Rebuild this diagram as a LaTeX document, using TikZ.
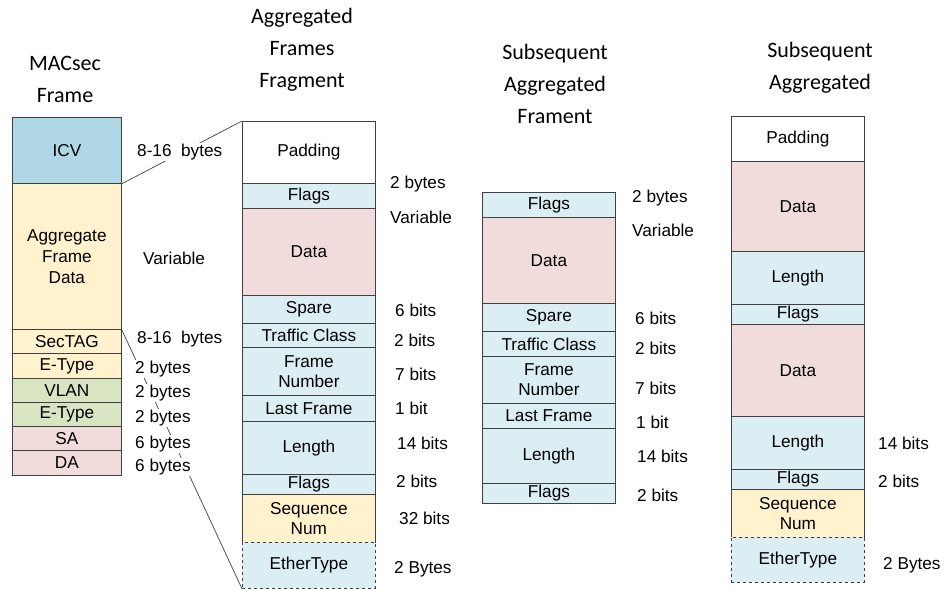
\documentclass[tikz,border=0pt]{standalone}
\usepackage{fontspec}
\setmainfont{Liberation Sans}
\newfontfamily\titlefont{Carlito}
\definecolor{icvblue}{RGB}{176,215,229}
\definecolor{cellblue}{RGB}{219,238,244}
\definecolor{cellyellow}{RGB}{255,242,204}
\definecolor{cellgreen}{RGB}{216,228,194}
\definecolor{cellpink}{RGB}{242,220,219}
\definecolor{edgegray}{RGB}{64,64,64}

\begin{document}
\begin{tikzpicture}[x=1pt,y=-1pt,
  cell/.style={draw=edgegray, line width=0.8pt, anchor=north west, minimum width=133pt,
    inner sep=0pt, align=center, fill=cellblue, font=\fontsize{17.2}{20}\selectfont},
  narrow/.style={minimum width=109pt},
  lbl/.style={anchor=west, fill=white, inner sep=1pt, font=\fontsize{17.2}{20}\selectfont},
  title/.style={align=center, font=\titlefont\fontsize{22}{32}\selectfont},
  conn/.style={draw=edgegray, line width=0.7pt}]
  \useasboundingbox (0,0) rectangle (945,589);

  % titles
  \node[title] (t1) at (65,79) {MACsec\\Frame};
  \node[title] (t2) at (302,50) {Aggregated\\Frames\\Fragment};
  \node[title] (t3) at (555,84) {Subsequent\\Aggregated\\Frament};
  \node[title] (t4) at (820,68) {Subsequent\\Aggregated};

  % MACsec frame
  \node[cell, narrow, fill=icvblue, minimum height=66pt] (icv) at (12,117) {ICV};
  \node[cell, narrow, fill=cellyellow, minimum height=146pt, font=\fontsize{17.2}{21}\selectfont] (afd) at (12,183) {Aggregate\\Frame\\Data};
  \node[cell, narrow, fill=cellyellow, minimum height=24pt] (sectag) at (12,329) {SecTAG};
  \node[cell, narrow, fill=cellyellow, minimum height=25pt] (etypeA) at (12,353) {E-Type};
  \node[cell, narrow, fill=cellgreen, minimum height=24pt] (vlan) at (12,378) {VLAN};
  \node[cell, narrow, fill=cellgreen, minimum height=24pt] (etypeB) at (12,402) {E-Type};
  \node[cell, narrow, fill=cellpink, minimum height=24pt] (sa) at (12,426) {SA};
  \node[cell, narrow, fill=cellpink, minimum height=25pt] (da) at (12,450) {DA};

  % aggregated frames fragment
  \node[cell, fill=white, minimum height=62pt] (padB) at (242,121) {Padding};
  \node[cell, minimum height=25pt] (flagsBa) at (242,183) {Flags};
  \node[cell, fill=cellpink, minimum height=87pt] (dataB) at (242,208) {Data};
  \node[cell, minimum height=28pt] (spareB) at (242,295) {Spare};
  \node[cell, minimum height=24pt] (tcB) at (242,323) {Traffic Class};
  \node[cell, minimum height=48pt] (fnB) at (242,347) {Frame\\Number};
  \node[cell, minimum height=26pt] (lfB) at (242,395) {Last Frame};
  \node[cell, minimum height=53pt] (lenB) at (242,421) {Length};
  \node[cell, minimum height=20pt] (flagsBb) at (242,474) {Flags};
  \node[cell, fill=cellyellow, minimum height=48pt] (seqB) at (242,494) {Sequence\\Num};
  \node[cell, dashed, minimum height=46pt] (ethB) at (242,542) {EtherType};

  % subsequent aggregated fragment
  \node[cell, minimum height=25pt] (flagsCa) at (482,192) {Flags};
  \node[cell, fill=cellpink, minimum height=86pt] (dataC) at (482,217) {Data};
  \node[cell, minimum height=28pt] (spareC) at (482,303) {Spare};
  \node[cell, minimum height=25pt] (tcC) at (482,331) {Traffic Class};
  \node[cell, minimum height=47pt] (fnC) at (482,356) {Frame\\Number};
  \node[cell, minimum height=25pt] (lfC) at (482,403) {Last Frame};
  \node[cell, minimum height=55pt] (lenC) at (482,428) {Length};
  \node[cell, minimum height=20pt] (flagsCb) at (482,483) {Flags};

  % subsequent aggregated
  \node[cell, fill=white, minimum height=45pt] (padD) at (731,116) {Padding};
  \node[cell, fill=cellpink, minimum height=90pt] (dataDa) at (731,161) {Data};
  \node[cell, minimum height=53pt] (lenDa) at (731,251) {Length};
  \node[cell, minimum height=20pt] (flagsDa) at (731,304) {Flags};
  \node[cell, fill=cellpink, minimum height=92pt] (dataDb) at (731,324) {Data};
  \node[cell, minimum height=53pt] (lenDb) at (731,416) {Length};
  \node[cell, minimum height=20pt] (flagsDb) at (731,469) {Flags};
  \node[cell, fill=cellyellow, minimum height=48pt] (seqD) at (731,489) {Sequence\\Num};
  \node[cell, dashed, minimum height=45pt] (ethD) at (731,537) {EtherType};

  % zoom lines
  \draw[conn] (icv.south east) -- (padB.north west);
  \draw[conn] (afd.south east) -- (ethB.south west);

  % sizes
  \node[lbl] (sA1) at (136,152) {8-16\ \ bytes};
  \node[lbl] (sA2) at (142,258) {Variable};
  \node[lbl] (sA3) at (136,339) {8-16\ \ bytes};
  \node[lbl] (sA4) at (134,369) {2 bytes};
  \node[lbl] (sA5) at (134,393) {2 bytes};
  \node[lbl] (sA6) at (134,418) {2 bytes};
  \node[lbl] (sA7) at (134,444) {6 bytes};
  \node[lbl] (sA8) at (134,467) {6 bytes};

  \node[lbl] (sB1) at (389,184) {2 bytes};
  \node[lbl] (sB2) at (389,217) {Variable};
  \node[lbl] (sB3) at (394,310) {6 bits};
  \node[lbl] (sB4) at (393,340) {2 bits};
  \node[lbl] (sB5) at (394,374) {7 bits};
  \node[lbl] (sB6) at (394,408) {1 bit};
  \node[lbl] (sB7) at (396,443) {14 bits};
  \node[lbl] (sB8) at (395,481) {2 bits};
  \node[lbl] (sB9) at (398,518) {32 bits};
  \node[lbl] (sB10) at (393,569) {2 Bytes};

  \node[lbl] (sC1) at (631,198) {2 bytes};
  \node[lbl] (sC2) at (631,230) {Variable};
  \node[lbl] (sC3) at (634,318) {6 bits};
  \node[lbl] (sC4) at (634,348) {2 bits};
  \node[lbl] (sC5) at (634,388) {7 bits};
  \node[lbl] (sC6) at (635,422) {1 bit};
  \node[lbl] (sC7) at (636,456) {14 bits};
  \node[lbl] (sC8) at (636,495) {2 bits};

  \node[lbl] (sD1) at (877,443) {14 bits};
  \node[lbl] (sD2) at (877,481) {2 bits};
  \node[lbl] (sD3) at (882,565) {2 Bytes};
\end{tikzpicture}
\end{document}
